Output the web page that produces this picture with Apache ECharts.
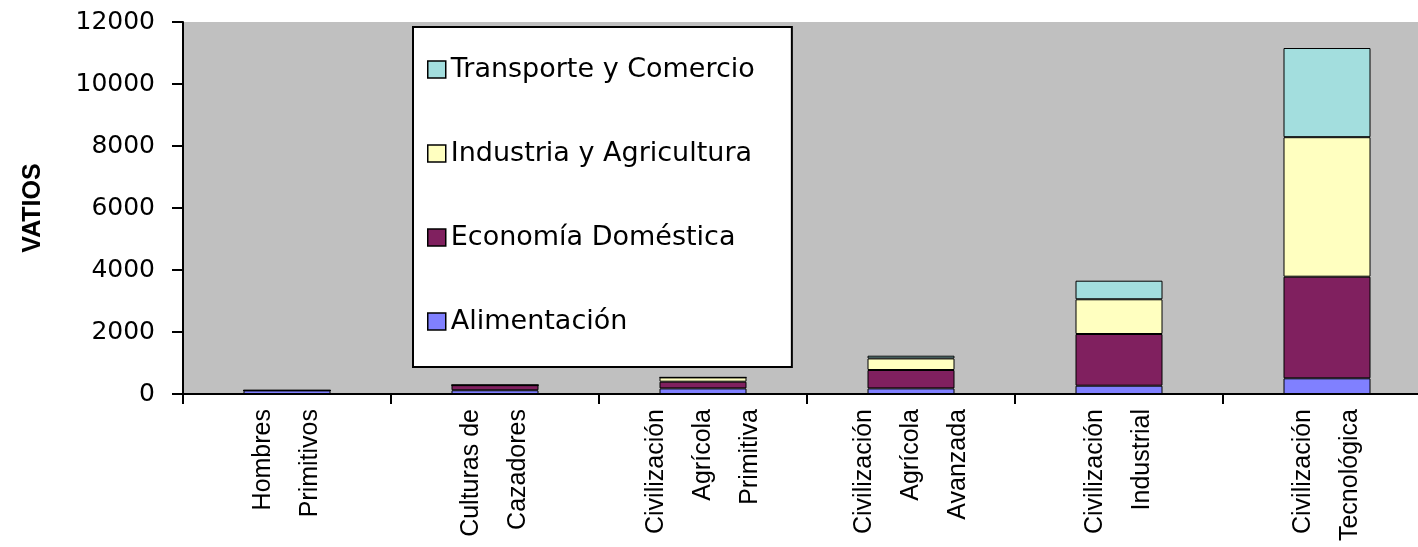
<!DOCTYPE html>
<html>
<head>
<meta charset="utf-8">
<script src="https://cdn.jsdelivr.net/npm/echarts@6/dist/echarts.min.js"></script>
<style>html,body{margin:0;padding:0;background:#fff;}#c{width:1418px;height:547px;}</style>
</head>
<body>
<div id="c"></div>
<script>
const categories = [
  'Hombres\nPrimitivos',
  'Culturas de\nCazadores',
  'Civilización\nAgrícola\nPrimitiva',
  'Civilización\nAgrícola\nAvanzada',
  'Civilización\nIndustrial',
  'Civilización\nTecnológica'
];
const alimentacion = [115, 120, 180, 180, 268, 506];
const economiaDomestica = [0, 165, 217, 594, 1667, 3278];
const industriaAgricultura = [0, 0, 138, 374, 1120, 4500];
const transporteComercio = [0, 0, 0, 87, 600, 2877];
const yTicks = { min: 0, max: 12000, interval: 2000 };

const font = '"Liberation Sans", Arial, sans-serif';
const wide = '"DejaVu Sans", Verdana, sans-serif';
const chart = echarts.init(document.getElementById('c'), null, { renderer: 'canvas' });

function s(name, data, color) {
  return {
    name: name, type: 'bar', stack: 'total', data: data, barWidth: 87,
    itemStyle: { color: color, borderColor: '#000', borderWidth: 1 },
    emphasis: { disabled: true }
  };
}

chart.setOption({
  animation: false,
  backgroundColor: '#fff',
  grid: { left: 183, width: 1248, top: 22, bottom: 153, show: true, backgroundColor: '#C0C0C0', borderWidth: 0, containLabel: false, outerBoundsMode: 'none' },
  legend: {
    orient: 'vertical', left: 413, top: 27,
    data: ['Transporte y Comercio', 'Industria y Agricultura', 'Economía Doméstica', 'Alimentación'],
    backgroundColor: '#fff', borderColor: '#000', borderWidth: 2,
    padding: [29, 37, 32, 14],
    itemGap: 57, itemWidth: 18, itemHeight: 17, icon: 'rect',
    itemStyle: { borderColor: '#000', borderWidth: 1.5 },
    textStyle: { fontFamily: wide, fontSize: 27, color: '#000', lineHeight: 24 }
  },
  xAxis: {
    type: 'category', data: categories,
    axisLine: { lineStyle: { color: '#000', width: 2 } },
    axisTick: { show: true, length: 10, lineStyle: { color: '#000', width: 2 } },
    axisLabel: { rotate: 90, fontFamily: font, fontSize: 25, color: '#000', lineHeight: 47, margin: 15, interval: 0 }
  },
  yAxis: {
    type: 'value', min: yTicks.min, max: yTicks.max, interval: yTicks.interval,
    name: 'VATIOS', nameLocation: 'middle', nameGap: 137,
    nameTextStyle: { fontFamily: '"Liberation Sans Narrow", "Arial Narrow", Arial, sans-serif', fontSize: 25, fontWeight: 'bold', color: '#000' },
    splitLine: { show: false },
    axisLine: { show: true, lineStyle: { color: '#000', width: 2 } },
    axisTick: { show: true, inside: false, length: 11, lineStyle: { color: '#000', width: 2 } },
    axisLabel: { fontFamily: wide, fontSize: 25, color: '#000', margin: 28, formatter: function (v) { return String(v); } }
  },
  series: [
    s('Alimentación', alimentacion, '#8080FF'),
    s('Economía Doméstica', economiaDomestica, '#80205F'),
    s('Industria y Agricultura', industriaAgricultura, '#FFFFC0'),
    s('Transporte y Comercio', transporteComercio, '#A3DEDE')
  ]
});
</script>
</body>
</html>
